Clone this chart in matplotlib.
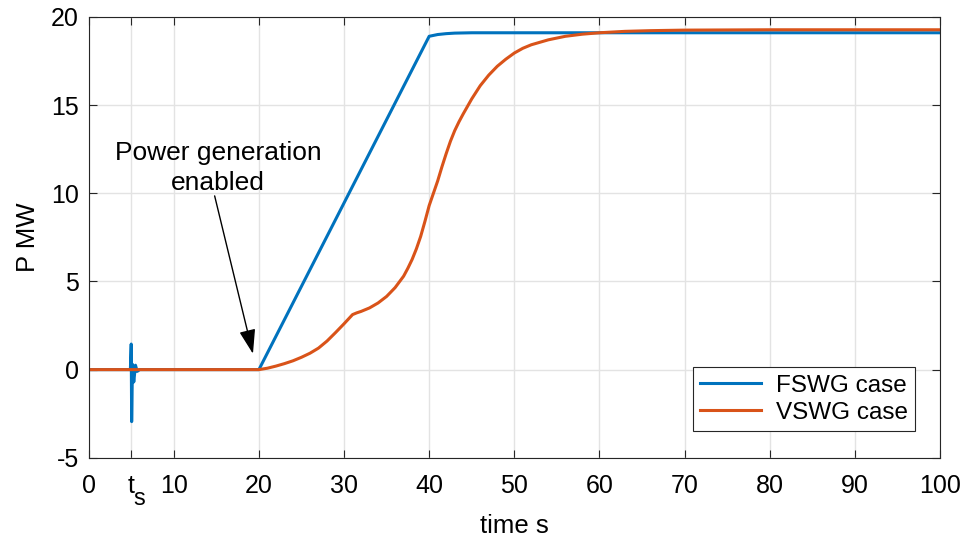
import numpy as np
import matplotlib.pyplot as plt
from matplotlib.transforms import blended_transform_factory

plt.rcParams['font.family'] = ['Liberation Sans', 'DejaVu Sans']
plt.rcParams['axes.unicode_minus'] = False

# FSWG case (blue)
t_fswg = [0, 4.9, 5.0, 5.05, 5.15, 5.3, 5.5, 5.7, 6.0, 20, 40, 41, 42, 43, 45, 50, 100]
p_fswg = [0, 0, 1.45, -2.95, 0.3, -0.7, 0.25, -0.1, 0, 0, 18.9, 19.0, 19.05, 19.08, 19.1, 19.1, 19.1]

# VSWG case (orange)
t_vswg = [0, 20, 21, 22, 23, 24, 25, 26, 27, 28, 29, 30, 31, 31.5, 32, 33, 34, 35, 36, 37,
          37.5, 38, 38.5, 39, 39.5, 40, 40.5, 41, 41.5, 42, 42.5, 43, 43.5, 44, 45, 46, 47,
          48, 49, 50, 51, 52, 54, 56, 58, 60, 63, 66, 70, 80, 100]
p_vswg = [0, 0, 0.08, 0.2, 0.34, 0.5, 0.7, 0.93, 1.22, 1.62, 2.1, 2.6, 3.12, 3.22, 3.3,
          3.5, 3.78, 4.15, 4.65, 5.3, 5.75, 6.25, 6.85, 7.55, 8.4, 9.3, 10.0, 10.7, 11.5,
          12.25, 12.95, 13.55, 14.05, 14.5, 15.35, 16.1, 16.7, 17.2, 17.6, 17.95, 18.22,
          18.42, 18.7, 18.9, 19.02, 19.1, 19.18, 19.22, 19.25, 19.27, 19.27]

xticks = [0, 5, 10, 20, 30, 40, 50, 60, 70, 80, 90, 100]
xticklabels = ['0', 't', '10', '20', '30', '40', '50', '60', '70', '80', '90', '100']
yticks = [-5, 0, 5, 10, 15, 20]

axc = '#262626'
fig = plt.figure(figsize=(9.7, 5.45), dpi=100)
ax = fig.add_axes([0.0914, 0.160, 0.8776, 0.809])

ax.plot(t_fswg, p_fswg, color='#0072BD', lw=2.2, label='FSWG case')
ax.plot(t_vswg, p_vswg, color='#D95319', lw=2.2, label='VSWG case')

ax.set_xlim(0, 100)
ax.set_ylim(-5, 20)
ax.set_xticks(xticks)
ax.set_xticklabels(xticklabels)
ax.set_yticks(yticks)
ax.grid(True, color='#e3e3e3', lw=1.0)
ax.set_axisbelow(True)

ax.tick_params(direction='in', length=6, width=0.8, colors=axc, labelsize=18,
               top=True, right=True)
ax.tick_params(axis='x', pad=12)
ax.tick_params(axis='y', pad=7)
ax.tick_params(labelcolor='black')
for s in ax.spines.values():
    s.set_color(axc)
    s.set_linewidth(0.8)

# subscript "s" of the t_s tick label
trans = blended_transform_factory(ax.transData, ax.transAxes)
ax.text(5.3, -0.068, 's', transform=trans, ha='left', va='top', fontsize=17)

ax.set_xlabel('time s', fontsize=18.5, labelpad=11)
ax.set_ylabel('P MW', fontsize=18.5, labelpad=8)

ax.text(15.2, 9.9, 'Power generation\nenabled', ha='center', va='bottom', fontsize=19,
        linespacing=1.3)
ax.annotate('', xy=(19.3, 0.9), xytext=(14.8, 9.85),
            arrowprops=dict(arrowstyle='-|>,head_length=1.5,head_width=0.5',
                            color='black', lw=1.0, shrinkA=0, shrinkB=0))

leg = ax.legend(loc='lower right', bbox_to_anchor=(0.9706, 0.0612), borderaxespad=0,
                fontsize=17.5, handlelength=2.5, fancybox=False, framealpha=1,
                edgecolor=axc, borderpad=0.3, labelspacing=0.2, handletextpad=0.6)
leg.get_frame().set_linewidth(0.8)

fig.savefig('out.png', dpi=100)
